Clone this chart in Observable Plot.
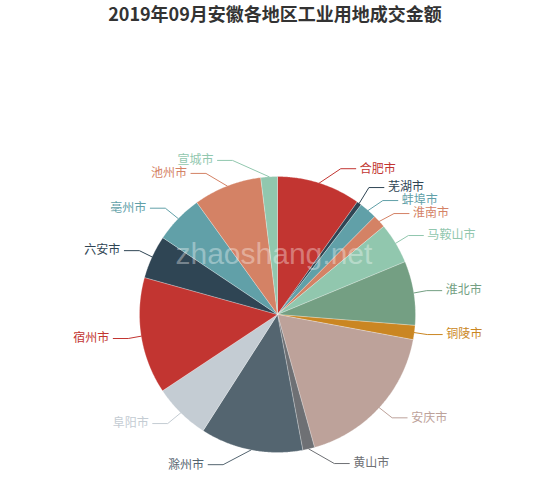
<!DOCTYPE html>
<html><head><meta charset="utf-8">
<script src="https://cdn.jsdelivr.net/npm/d3@7"></script>
<script src="https://cdn.jsdelivr.net/npm/@observablehq/plot@0.6"></script>
<style>
body{margin:0;background:#fff;}
#title{width:550px;height:50px;line-height:56px;text-align:center;font:bold 18px "Noto Sans CJK SC",sans-serif;color:#333;}
</style></head><body>
<div id="title"></div><div id="chart"></div>
<script>
const titleText = "2019年09月安徽各地区工业用地成交金额";
const cities = ["合肥市","芜湖市","蚌埠市","淮南市","马鞍山市","淮北市","铜陵市","安庆市","黄山市","滁州市","阜阳市","宿州市","六安市","亳州市","池州市","宣城市"];
const values = [9.81, 0.56, 2.08, 1.53, 4.78, 7.50, 1.67, 17.75, 1.39, 12.00, 6.61, 13.64, 5.08, 5.67, 8.00, 1.94];
const palette = ["#c23531","#2f4554","#61a0a8","#d48265","#91c7ae","#749f83","#ca8622","#bda29a","#6e7074","#546570","#c4ccd3"];
const watermark = "zhaoshang.net";

document.getElementById("title").textContent = titleText;

const R = 138, LEN = 15, LEN2 = 15, GAP = 4, RT = 165, LINE_H = 13;
const arcs = d3.pie().sort(null).value(d => d)(values);

const slicePts = [];
arcs.forEach((a, i) => {
  const color = palette[i % palette.length];
  slicePts.push({i, color, x: 0, y: 0});
  const n = Math.max(2, Math.ceil((a.endAngle - a.startAngle) * 180 / Math.PI * 2));
  for (let k = 0; k <= n; k++) {
    const t = a.startAngle + (a.endAngle - a.startAngle) * k / n;
    slicePts.push({i, color, x: R * Math.sin(t), y: R * Math.cos(t)});
  }
  slicePts.push({i, color, x: 0, y: 0});
});

const labels = arcs.map((a, i) => {
  const m = (a.startAngle + a.endAngle) / 2;
  return {name: cities[i], color: palette[i % palette.length], m,
          side: Math.sin(m) >= 0 ? 1 : -1, ty: -(R + LEN) * Math.cos(m)};
});
for (const side of [1, -1]) {
  const list = labels.filter(l => l.side === side).sort((a, b) => a.ty - b.ty);
  for (let it = 0; it < 300; it++) {
    let moved = false;
    for (let k = 0; k < list.length - 1; k++) {
      const d = list[k + 1].ty - list[k].ty;
      if (d < LINE_H - 1e-6) { const s = (LINE_H - d) / 2; list[k].ty -= s; list[k + 1].ty += s; moved = true; }
    }
    if (!moved) break;
  }
}
const linePts = [];
labels.forEach(l => {
  const dx = Math.sqrt(Math.max(RT * RT - l.ty * l.ty, 0));
  l.tx = l.side * (dx + 5);
  l.yy = -l.ty;
  const ex = l.tx - l.side * GAP;
  const kx = ex - l.side * LEN2;
  linePts.push({name: l.name, color: l.color, x: R * Math.sin(l.m), y: R * Math.cos(l.m)});
  linePts.push({name: l.name, color: l.color, x: kx, y: l.yy});
  linePts.push({name: l.name, color: l.color, x: ex, y: l.yy});
});

const chart = Plot.plot({
  width: 550, height: 440, margin: 0,
  x: {domain: [-277, 273], axis: null},
  y: {domain: [-176, 264], axis: null},
  style: {fontFamily: '"Noto Sans CJK SC", sans-serif', background: "transparent"},
  marks: [
    Plot.line(slicePts, {x: "x", y: "y", z: "i", fill: "color", stroke: "#fff", strokeWidth: 0.5, strokeOpacity: 0.5, curve: "linear"}),
    Plot.line(linePts, {x: "x", y: "y", z: "name", stroke: "color", strokeWidth: 1}),
    Plot.text(labels.filter(l => l.side > 0), {x: "tx", y: "yy", text: "name", fill: "color", textAnchor: "start", fontSize: 12}),
    Plot.text(labels.filter(l => l.side < 0), {x: "tx", y: "yy", text: "name", fill: "color", textAnchor: "end", fontSize: 12}),
    Plot.text([watermark], {frameAnchor: "top-left", dx: 175, dy: 192, text: d => d, fontSize: 30, fill: "#fff", fillOpacity: 0.35, fontFamily: '"Liberation Sans", sans-serif', textAnchor: "start"})
  ]
});
document.getElementById("chart").appendChild(chart);
</script>
</body></html>
